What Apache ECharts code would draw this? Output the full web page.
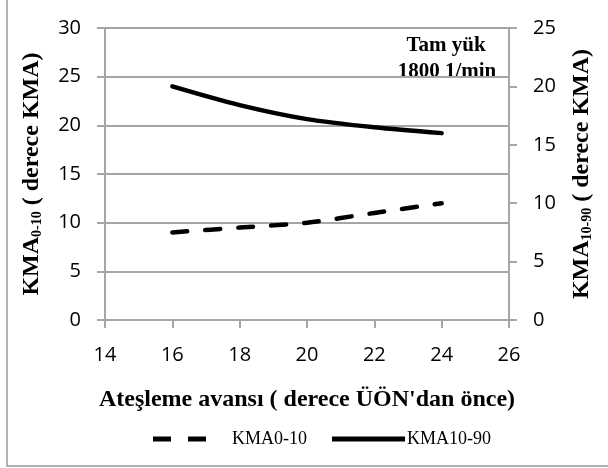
<!DOCTYPE html>
<html><head><meta charset="utf-8">
<script src="https://cdn.jsdelivr.net/npm/echarts@6/dist/echarts.min.js"></script>
<style>html,body{margin:0;padding:0;background:#fff}#c{width:608px;height:468px}</style>
</head><body><div id="c"></div>
<script>
var xValues = [16, 18, 20, 22, 24];
var kma010 = [9, 9.5, 10, 11, 12];
var kma1090 = [20, 18.4, 17.2, 16.5, 16];
var seriesNames = ['KMA0-10', 'KMA10-90'];
var leftTitle = '{b|KMA}{s|0-10}{b| ( derece KMA)}';
var rightTitle = '{b|KMA}{s|10-90}{b| ( derece KMA)}';
var xTitle = "Ateşleme avansı ( derece ÜÖN'dan önce)";
var noteLines = ['Tam yük', '1800 1/min'];

var chart = echarts.init(document.getElementById('c'));
var serif = '"Liberation Serif", "Times New Roman", serif';
var sans = '"Open Sans", "Liberation Sans", sans-serif';
var gray = '#a6a6a6';
var titleRich = {
  b: {fontFamily: serif, fontWeight: 'bold', fontSize: 24, color: '#000'},
  s: {fontFamily: serif, fontWeight: 'bold', fontSize: 14, color: '#000', verticalAlign: 'bottom', padding: [10, 0, 0, 0]}
};
var legendText = {fontFamily: serif, fontSize: 18, color: '#000'};
chart.setOption({
  animation: false,
  backgroundColor: '#fff',
  grid: {left: 105, right: 99, top: 28, bottom: 148, containLabel: false},
  graphic: [
    {type: 'rect', shape: {x: 7, y: -2, width: 612, height: 468}, style: {fill: 'none', stroke: '#999', lineWidth: 1.5}, silent: true},
    {type: 'text', x: 446, y: 46, style: {text: noteLines[0], font: 'bold 21px ' + serif, textAlign: 'center', textVerticalAlign: 'middle', fill: '#000'}},
    {type: 'text', x: 447, y: 72, style: {text: noteLines[1], font: 'bold 21px ' + serif, textAlign: 'center', textVerticalAlign: 'middle', fill: '#000'}}
  ],
  legend: [
    {
      top: 425, left: 148, itemWidth: 53, itemHeight: 5,
      textStyle: Object.assign({padding: [0, 0, 0, 21]}, legendText),
      data: [{name: seriesNames[0], icon: 'path://M0,0H18V5H0Z M35,0H53V5H35Z', itemStyle: {color: '#000'}}]
    },
    {
      top: 425, left: 327, itemWidth: 73, itemHeight: 5,
      textStyle: Object.assign({padding: [0, 0, 0, -3]}, legendText),
      data: [{name: seriesNames[1], icon: 'rect', itemStyle: {color: '#000'}}]
    }
  ],
  xAxis: {
    type: 'value', min: 14, max: 26, interval: 2,
    name: xTitle, nameLocation: 'middle', nameGap: 68,
    nameTextStyle: {fontFamily: serif, fontWeight: 'bold', fontSize: 24, color: '#000'},
    axisLine: {show: true, onZero: false, lineStyle: {color: gray, width: 2}},
    axisTick: {show: true, length: 8, lineStyle: {color: gray, width: 2}},
    axisLabel: {fontFamily: sans, fontSize: 20, color: '#000', margin: 25},
    splitLine: {show: false}
  },
  yAxis: [
    {
      type: 'value', min: 0, max: 30, interval: 5, position: 'left',
      name: leftTitle, nameLocation: 'middle', nameRotate: 90, nameGap: 61,
      nameTextStyle: {rich: titleRich},
      axisLine: {show: true, lineStyle: {color: gray, width: 2}},
      axisTick: {show: true, length: 8, lineStyle: {color: gray, width: 2}},
      axisLabel: {fontFamily: sans, fontSize: 20, color: '#000', margin: 24},
      splitLine: {show: true, lineStyle: {color: gray, width: 2}}
    },
    {
      type: 'value', min: 0, max: 25, interval: 5, position: 'right',
      name: rightTitle, nameLocation: 'middle', nameRotate: 90, nameGap: 61,
      nameTextStyle: {rich: titleRich},
      axisLine: {show: true, lineStyle: {color: gray, width: 2}},
      axisTick: {show: true, length: 8, lineStyle: {color: gray, width: 2}},
      axisLabel: {fontFamily: sans, fontSize: 20, color: '#000', margin: 24},
      splitLine: {show: false}
    }
  ],
  series: [
    {
      name: seriesNames[0], type: 'line', yAxisIndex: 0, smooth: 0.3, showSymbol: false,
      data: xValues.map(function (x, i) { return [x, kma010[i]]; }),
      lineStyle: {color: '#000', width: 4.5, type: [15, 18], cap: 'round'},
      itemStyle: {color: '#000'}
    },
    {
      name: seriesNames[1], type: 'line', yAxisIndex: 1, smooth: 0.3, showSymbol: false,
      data: xValues.map(function (x, i) { return [x, kma1090[i]]; }),
      lineStyle: {color: '#000', width: 4.5, cap: 'round'},
      itemStyle: {color: '#000'}
    }
  ]
});
</script></body></html>
